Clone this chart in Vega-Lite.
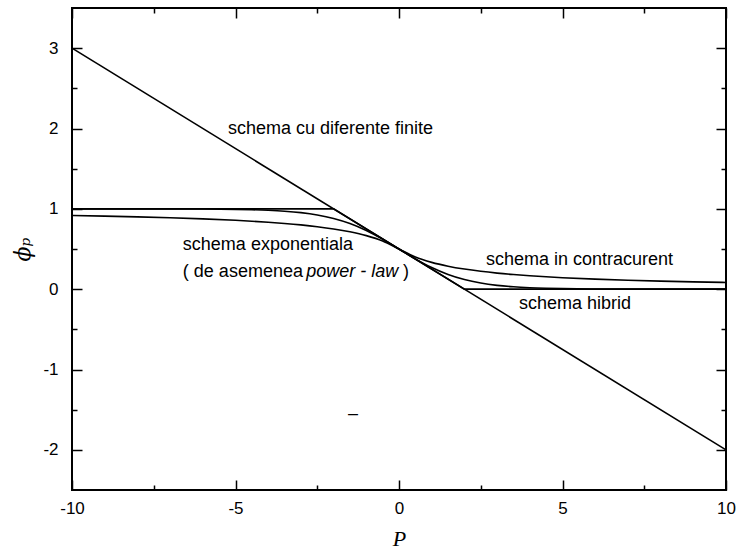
{
  "$schema": "https://vega.github.io/schema/vega-lite/v6.json",
  "width": 654,
  "height": 482,
  "autosize": {"type": "none"},
  "padding": {"left": 72, "top": 8, "right": 16, "bottom": 70},
  "background": "white",
  "config": {
    "view": {"stroke": "black", "strokeWidth": 2},
    "font": "Liberation Sans",
    "axis": {
      "domain": false,
      "grid": false,
      "tickColor": "black",
      "tickWidth": 1.5,
      "labelColor": "black",
      "labelFont": "Liberation Sans",
      "labelFontSize": 17,
      "titleColor": "black"
    }
  },
  "datasets": {
    "straight": [
      {"P": -10, "phi": 3, "schema": "diferente finite"},
      {"P": 10, "phi": -2, "schema": "diferente finite"},
      {"P": -10, "phi": 1, "schema": "hibrid"},
      {"P": -2, "phi": 1, "schema": "hibrid"},
      {"P": 2, "phi": 0, "schema": "hibrid"},
      {"P": 10, "phi": 0, "schema": "hibrid"}
    ],
    "smooth": [
      {"P": -10, "phi": 0.9167, "schema": "contracurent"},
      {"P": -9, "phi": 0.9091, "schema": "contracurent"},
      {"P": -8, "phi": 0.9, "schema": "contracurent"},
      {"P": -7, "phi": 0.8889, "schema": "contracurent"},
      {"P": -6, "phi": 0.875, "schema": "contracurent"},
      {"P": -5, "phi": 0.8571, "schema": "contracurent"},
      {"P": -4.5, "phi": 0.8462, "schema": "contracurent"},
      {"P": -4, "phi": 0.8333, "schema": "contracurent"},
      {"P": -3.5, "phi": 0.8182, "schema": "contracurent"},
      {"P": -3, "phi": 0.8, "schema": "contracurent"},
      {"P": -2.5, "phi": 0.7778, "schema": "contracurent"},
      {"P": -2, "phi": 0.75, "schema": "contracurent"},
      {"P": -1.5, "phi": 0.7143, "schema": "contracurent"},
      {"P": -1, "phi": 0.6667, "schema": "contracurent"},
      {"P": -0.5, "phi": 0.6, "schema": "contracurent"},
      {"P": 0, "phi": 0.5, "schema": "contracurent"},
      {"P": 0.5, "phi": 0.4, "schema": "contracurent"},
      {"P": 1, "phi": 0.3333, "schema": "contracurent"},
      {"P": 1.5, "phi": 0.2857, "schema": "contracurent"},
      {"P": 2, "phi": 0.25, "schema": "contracurent"},
      {"P": 2.5, "phi": 0.2222, "schema": "contracurent"},
      {"P": 3, "phi": 0.2, "schema": "contracurent"},
      {"P": 3.5, "phi": 0.1818, "schema": "contracurent"},
      {"P": 4, "phi": 0.1667, "schema": "contracurent"},
      {"P": 4.5, "phi": 0.1538, "schema": "contracurent"},
      {"P": 5, "phi": 0.1429, "schema": "contracurent"},
      {"P": 6, "phi": 0.125, "schema": "contracurent"},
      {"P": 7, "phi": 0.1111, "schema": "contracurent"},
      {"P": 8, "phi": 0.1, "schema": "contracurent"},
      {"P": 9, "phi": 0.0909, "schema": "contracurent"},
      {"P": 10, "phi": 0.0833, "schema": "contracurent"},

      {"P": -10, "phi": 1.0, "schema": "exponentiala"},
      {"P": -8, "phi": 0.9997, "schema": "exponentiala"},
      {"P": -7, "phi": 0.9991, "schema": "exponentiala"},
      {"P": -6, "phi": 0.9975, "schema": "exponentiala"},
      {"P": -5, "phi": 0.9933, "schema": "exponentiala"},
      {"P": -4.5, "phi": 0.989, "schema": "exponentiala"},
      {"P": -4, "phi": 0.982, "schema": "exponentiala"},
      {"P": -3.5, "phi": 0.9707, "schema": "exponentiala"},
      {"P": -3, "phi": 0.9526, "schema": "exponentiala"},
      {"P": -2.5, "phi": 0.9241, "schema": "exponentiala"},
      {"P": -2, "phi": 0.8808, "schema": "exponentiala"},
      {"P": -1.5, "phi": 0.8176, "schema": "exponentiala"},
      {"P": -1, "phi": 0.7311, "schema": "exponentiala"},
      {"P": -0.5, "phi": 0.6225, "schema": "exponentiala"},
      {"P": 0, "phi": 0.5, "schema": "exponentiala"},
      {"P": 0.5, "phi": 0.3775, "schema": "exponentiala"},
      {"P": 1, "phi": 0.2689, "schema": "exponentiala"},
      {"P": 1.5, "phi": 0.1824, "schema": "exponentiala"},
      {"P": 2, "phi": 0.1192, "schema": "exponentiala"},
      {"P": 2.5, "phi": 0.0759, "schema": "exponentiala"},
      {"P": 3, "phi": 0.0474, "schema": "exponentiala"},
      {"P": 3.5, "phi": 0.0293, "schema": "exponentiala"},
      {"P": 4, "phi": 0.018, "schema": "exponentiala"},
      {"P": 4.5, "phi": 0.011, "schema": "exponentiala"},
      {"P": 5, "phi": 0.0067, "schema": "exponentiala"},
      {"P": 6, "phi": 0.0025, "schema": "exponentiala"},
      {"P": 7, "phi": 0.0009, "schema": "exponentiala"},
      {"P": 8, "phi": 0.0003, "schema": "exponentiala"},
      {"P": 10, "phi": 0.0, "schema": "exponentiala"}
    ],
    "labels": [
      {"P": -5.23, "phi": 1.99, "text": "schema cu diferente finite"},
      {"P": -6.61, "phi": 0.55, "text": "schema exponentiala"},
      {"P": -6.61, "phi": 0.21, "text": "( de asemenea"},
      {"P": 0.12, "phi": 0.21, "text": ")"},
      {"P": 2.66, "phi": 0.36, "text": "schema in contracurent"},
      {"P": 3.67, "phi": -0.19, "text": "schema hibrid"},
      {"P": -1.56, "phi": -1.55, "text": "–"}
    ],
    "italicLabels": [
      {"P": -2.84, "phi": 0.21, "text": "power - law"}
    ]
  },
  "layer": [
    {
      "data": {"name": "straight"},
      "mark": {"type": "line", "color": "black", "strokeWidth": 1.6},
      "encoding": {
        "x": {
          "field": "P", "type": "quantitative",
          "scale": {"domain": [-10, 10], "nice": false, "zero": false},
          "axis": {
            "orient": "bottom",
            "values": [-10, -7.5, -5, -2.5, 0, 2.5, 5, 7.5, 10],
            "labelExpr": "datum.value % 5 === 0 ? (datum.value < 0 ? '-' + abs(datum.value) : '' + datum.value) : ''",
            "tickSize": {"condition": {"test": "datum.value % 5 === 0", "value": -10}, "value": -5},
            "labelPadding": 20,
            "labelFlush": false,
            "title": "P",
            "titleFont": "Liberation Serif",
            "titleFontStyle": "italic",
            "titleFontWeight": "normal",
            "titleFontSize": 22,
            "titlePadding": 12
          }
        },
        "y": {
          "field": "phi", "type": "quantitative",
          "scale": {"domain": [-2.5, 3.5], "nice": false, "zero": false},
          "axis": {
            "orient": "left",
            "values": [-2, -1.5, -1, -0.5, 0, 0.5, 1, 1.5, 2, 2.5, 3],
            "labelExpr": "datum.value % 1 === 0 ? (datum.value < 0 ? '-' + abs(datum.value) : '' + datum.value) : ''",
            "tickSize": {"condition": {"test": "datum.value % 1 === 0", "value": -10}, "value": -5},
            "labelPadding": 24,
            "title": "ϕₚ",
            "titleFont": "DejaVu Serif",
            "titleFontStyle": "italic",
            "titleFontWeight": "normal",
            "titleFontSize": 22,
            "titlePadding": 8
          }
        },
        "detail": {"field": "schema", "type": "nominal"}
      }
    },
    {
      "data": {"name": "smooth"},
      "mark": {"type": "line", "color": "black", "strokeWidth": 1.6, "interpolate": "monotone"},
      "encoding": {
        "x": {"field": "P", "type": "quantitative", "axis": null},
        "y": {"field": "phi", "type": "quantitative", "axis": null},
        "detail": {"field": "schema", "type": "nominal"}
      }
    },
    {
      "data": {"name": "labels"},
      "mark": {"type": "text", "align": "left", "baseline": "middle", "fontSize": 18, "font": "Liberation Sans", "color": "black"},
      "encoding": {
        "x": {
          "field": "P", "type": "quantitative",
          "axis": {
            "orient": "top",
            "values": [-10, -7.5, -5, -2.5, 0, 2.5, 5, 7.5, 10],
            "labels": false,
            "title": null,
            "tickSize": {"condition": {"test": "datum.value % 5 === 0", "value": -10}, "value": -5}
          }
        },
        "y": {
          "field": "phi", "type": "quantitative",
          "axis": {
            "orient": "right",
            "values": [-2, -1.5, -1, -0.5, 0, 0.5, 1, 1.5, 2, 2.5, 3],
            "labels": false,
            "title": null,
            "tickSize": {"condition": {"test": "datum.value % 1 === 0", "value": -10}, "value": -5}
          }
        },
        "text": {"field": "text", "type": "nominal"}
      }
    },
    {
      "data": {"name": "italicLabels"},
      "mark": {"type": "text", "align": "left", "baseline": "middle", "fontSize": 18, "font": "Liberation Sans", "fontStyle": "italic", "color": "black"},
      "encoding": {
        "x": {"field": "P", "type": "quantitative", "axis": null},
        "y": {"field": "phi", "type": "quantitative", "axis": null},
        "text": {"field": "text", "type": "nominal"}
      }
    }
  ]
}
